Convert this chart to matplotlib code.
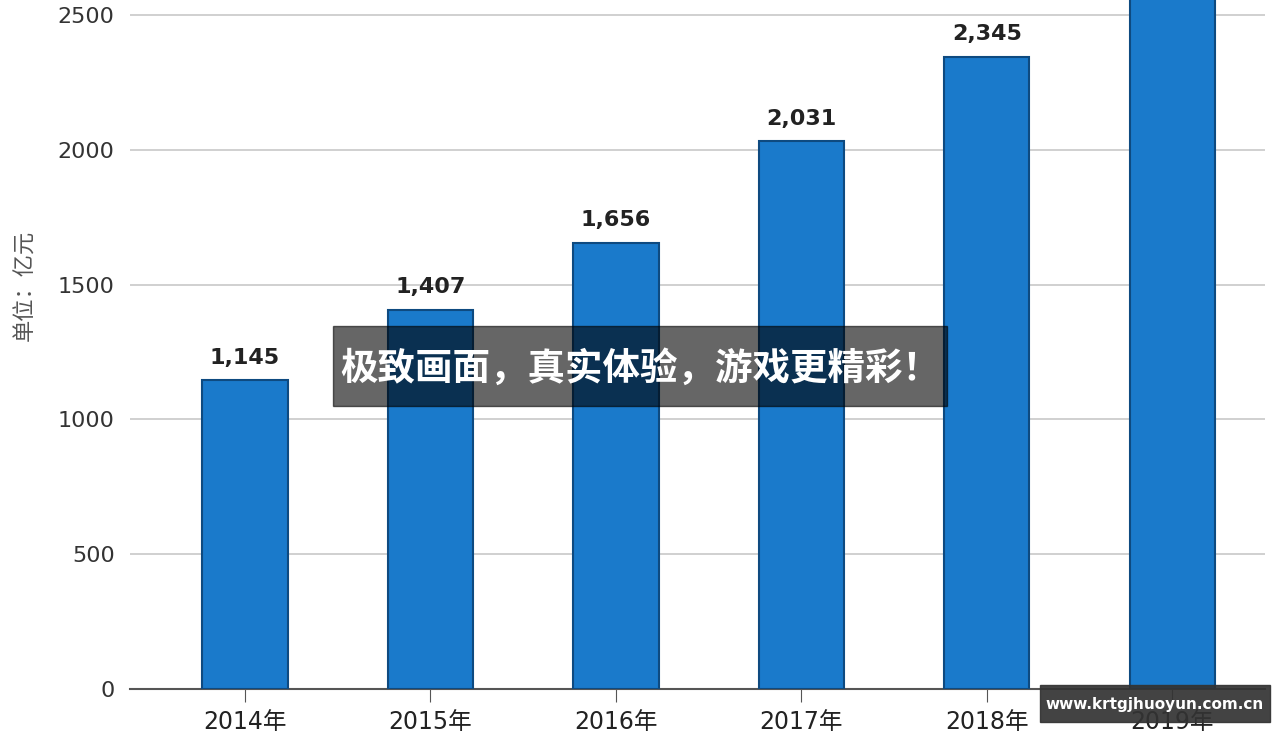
import matplotlib
matplotlib.use("Agg")
from matplotlib import pyplot as plt
from matplotlib.patches import Rectangle

years = ["2014年", "2015年", "2016年", "2017年", "2018年", "2019年"]
values = [1145, 1407, 1656, 2031, 2345, 2700]
labels = ["1,145", "1,407", "1,656", "2,031", "2,345", ""]
yticks = [0, 500, 1000, 1500, 2000, 2500]

fam = ["DejaVu Sans", "Noto Sans CJK SC"]
plt.rcParams['font.family'] = fam

fig = plt.figure(figsize=(12.8, 7.32), dpi=100)
ax = fig.add_axes([130/1280, 1-689/732, (1265-130)/1280, 689/732])

x = list(range(len(years)))
ax.bar(x, values, width=0.46, color="#1a7acb", edgecolor="#0e4a80", linewidth=1.5, zorder=3)
for xi, v, lab in zip(x, values, labels):
    ax.annotate(lab, (xi, v), xytext=(0, 9), textcoords="offset points",
                ha="center", va="bottom", fontsize=16, fontweight="bold", color="#222222")

ax.set_xlim(-0.62, 5.5)
ax.set_ylim(0, 689/0.2696)
ax.set_yticks(yticks)
ax.set_yticklabels([str(t) for t in yticks], fontsize=16, color="#333333")
ax.set_xticks(x)
ax.set_xticklabels(years, fontsize=17, color="#222222")
ax.yaxis.grid(True, color="#c8c8c8", linewidth=1.2, zorder=0)
for s in ["top", "right", "left"]:
    ax.spines[s].set_visible(False)
ax.spines["bottom"].set_color("#555555")
ax.spines["bottom"].set_linewidth(1.5)
ax.tick_params(axis="y", length=0, pad=11)
ax.tick_params(axis="x", length=9, color="#555555", pad=6)

fig.text(25/1280, 1-285/732, "单位：亿元", rotation=90, ha="center", va="center",
         fontsize=16, color="#555555", family=["Noto Sans CJK SC", "DejaVu Sans"])

# banner overlay
fig.patches.append(Rectangle((333/1280, 1-406/732), 614/1280, 80/732,
                             transform=fig.transFigure, color="black", alpha=0.6, zorder=10))
fig.text(640/1280, 1-368/732, "极致画面，真实体验，游戏更精彩！", ha="center", va="center",
         fontsize=27, fontweight="bold", color="white", zorder=11,
         family=["Noto Sans CJK SC", "DejaVu Sans"])

# site watermark
fig.patches.append(Rectangle((1040/1280, 1-722/732), 230/1280, 37/732,
                             transform=fig.transFigure, color="#333333", alpha=0.92, zorder=10))
fig.text(1155/1280, 1-704/732, "www.krtgjhuoyun.com.cn", ha="center", va="center",
         fontsize=11, fontweight="bold", color="white", zorder=11)

fig.savefig("out.png", dpi=100)
